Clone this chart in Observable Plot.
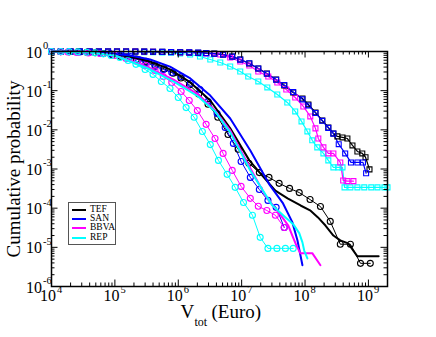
<!DOCTYPE html>
<html><head><meta charset="utf-8">
<script src="https://cdn.jsdelivr.net/npm/d3@7"></script>
<script src="https://cdn.jsdelivr.net/npm/@observablehq/plot@0.6"></script>
<style>
body{margin:0;background:#fff}
#chart{position:relative;width:436px;height:337px;font-family:'Liberation Serif','Times New Roman',serif}
#legend{position:absolute;left:68px;top:202px;width:48px;height:43px;border:1px solid #555;background:#fff;box-sizing:border-box}
.lrow{position:absolute;left:0;height:9px;font-size:9.5px;line-height:9px}
.lsw{position:absolute;left:3px;top:4px;width:14px;height:2px}
.ltx{position:absolute;left:21px;top:0}
</style>
</head><body><div id="chart"><div id="legend"></div></div>
<script>
const companies = ["TEF", "SAN", "BBVA", "REP"];
const colors = ["#000000", "#0000ff", "#ff00ff", "#00ffff"];

const xMajor = [1e4, 1e5, 1e6, 1e7, 1e8, 1e9];
const xExp = ["4", "5", "6", "7", "8", "9"];
const yMajor = [1, 1e-1, 1e-2, 1e-3, 1e-4, 1e-5, 1e-6];
const yExp = ["0", "-1", "-2", "-3", "-4", "-5", "-6"];
const minorMult = [2, 3, 4, 5, 6, 7, 8, 9];
const xLabelMain = "V", xLabelSub = "tot", xLabelUnit = "(Euro)";
const yLabel = "Cumulative probability";

// circle-marker series
const tefCircles = [[1e4,1],[1.4e4,0.995],[1.9e4,0.99],[2.6e4,0.98],[3.6e4,0.96],[4.9e4,0.93],[6.6e4,0.89],[9e4,0.83],[1.22e5,0.76],[1.6e5,0.70],[2.2e5,0.64],[3.1e5,0.56],[4.3e5,0.45],[6.0e5,0.36],[8.3e5,0.28],[1.1e6,0.21],[1.5e6,0.14],[2.1e6,0.082],[2.95e6,0.045],[4.2e6,0.021],[6.1e6,0.0076],[8.8e6,3.2e-3],[1.3e7,1.4e-3],[1.9e7,8.1e-4],[2.7e7,6.1e-4],[3.9e7,4.3e-4],[5.7e7,3.2e-4],[8.1e7,2.5e-4],[1.2e8,1.66e-4],[1.75e8,1.1e-4],[2.5e8,4.6e-5],[3.6e8,1.2e-5],[5.2e8,1.2e-5],[7.5e8,3.9e-6],[1.07e9,3.9e-6]];
const sanCircles = [[1e4,1],[1.4e4,0.995],[1.9e4,0.99],[2.8e4,0.97],[4e4,0.95],[5.8e4,0.92],[8.4e4,0.89],[1.2e5,0.82],[1.74e5,0.745],[2.36e5,0.625],[3.1e5,0.52],[4.3e5,0.415],[5.8e5,0.347],[7.9e5,0.29],[1.11e6,0.23],[1.55e6,0.153],[2.2e6,0.107],[2.97e6,0.053],[4.1e6,0.026],[5.5e6,0.0115],[7.4e6,0.0045],[9.8e6,1.56e-3],[1.37e7,6.1e-4],[1.9e7,3.0e-4],[2.6e7,1.58e-4],[3.5e7,1.05e-4],[4.7e7,3.2e-5]];
const bbvaCircles = [[1e4,1],[1.4e4,0.99],[1.8e4,0.97],[2.5e4,0.94],[3.8e4,0.92],[5.8e4,0.89],[1.0e5,0.79],[1.5e5,0.66],[2.25e5,0.556],[3.1e5,0.44],[4.3e5,0.327],[5.8e5,0.23],[7.9e5,0.162],[1.11e6,0.095],[1.49e6,0.056],[2.0e6,0.031],[2.75e6,0.0138],[3.8e6,6.0e-3],[5.1e6,2.5e-3],[7.1e6,9.2e-4],[9.8e6,3.6e-4],[1.37e7,1.78e-4],[1.83e7,1.12e-4],[2.5e7,8.7e-5],[3.4e7,6.6e-5],[4.7e7,3.2e-5]];
const repCircles = [[1e4,1],[1.4e4,1],[1.9e4,0.99],[2.6e4,0.98],[3.6e4,0.96],[4.9e4,0.93],[6.6e4,0.87],[8.7e4,0.79],[1.2e5,0.70],[1.62e5,0.59],[2.15e5,0.47],[3.0e5,0.347],[4.0e5,0.26],[5.4e5,0.172],[7.4e5,0.114],[1.0e6,0.067],[1.33e6,0.037],[1.78e6,0.021],[2.4e6,9.1e-3],[3.2e6,4.2e-3],[4.3e6,1.66e-3],[5.9e6,7.3e-4],[7.9e6,3.4e-4],[1.07e7,1.4e-4],[1.48e7,6.6e-5],[1.96e7,1.8e-5],[2.6e7,9.4e-6],[3.6e7,9.4e-6],[4.9e7,9.4e-6],[6.5e7,9.4e-6]];

// thick plain-line series
const tefLine = [[1e4,1],[3e4,0.98],[5.9e4,0.92],[1.74e5,0.745],[3.6e5,0.556],[7.4e5,0.35],[1.55e6,0.162],[3.2e6,0.056],[6.6e6,0.011],[1.32e7,1.66e-3],[2.1e7,6.9e-4],[3.4e7,2.8e-4],[5.3e7,1.78e-4],[8.5e7,1.17e-4],[1.2e8,8.8e-5],[1.6e8,5.8e-5],[2.1e8,3.6e-5],[2.8e8,2.0e-5],[3.6e8,1.5e-5],[4.8e8,1.26e-5],[6.7e8,5.9e-6],[1.45e9,5.9e-6]];
const sanLine = [[1e4,1],[5.8e4,0.94],[1.74e5,0.79],[3.6e5,0.625],[7.4e5,0.41],[1.55e6,0.205],[3.2e6,0.075],[6.6e6,0.0195],[1.37e7,2.97e-3],[2.8e7,3.8e-4],[4.5e7,1.32e-4],[6.3e7,4.4e-5],[7.6e7,1.5e-5],[9.1e7,3.5e-6]];
const bbvaLine = [[1e4,1],[4.05e4,0.943],[1.0e5,0.79],[3.34e5,0.39],[8.9e5,0.182],[2.06e6,0.08],[3.8e6,0.031],[6.6e6,9.7e-3],[1.22e7,1.47e-3],[2.36e7,2.1e-4],[3.4e7,9.9e-5],[4.5e7,5.5e-5],[5.45e7,3.6e-5],[6.3e7,2.0e-5],[7.3e7,1.12e-5],[8.4e7,7.1e-6],[1.3e8,7.1e-6],[1.75e8,3.5e-6]];
const repLine = [[1e4,1],[4.05e4,0.943],[1.0e5,0.79],[3.34e5,0.368],[8.9e5,0.162],[2.06e6,0.071],[3.8e6,0.0295],[6.6e6,8.6e-3],[1.37e7,9.2e-4],[3.04e7,1.18e-4],[4.5e7,6.6e-5],[6.5e7,3.9e-5],[8.1e7,2.3e-5],[9.1e7,1.34e-5],[9.7e7,8.3e-6],[1.09e8,5.2e-6]];

// square-marker series
const tefSquares = [[1e4,1],[1.4e4,1],[2e4,1],[2.8e4,1],[4e4,1],[5.6e4,1],[7.8e4,1],[1.08e5,1],[1.5e5,1],[2.1e5,1],[2.9e5,0.995],[4.0e5,0.99],[5.6e5,0.98],[7.7e5,0.97],[1.07e6,0.96],[1.49e6,0.943],[2.06e6,0.93],[2.76e6,0.916],[3.7e6,0.889],[5.1e6,0.838],[7.1e6,0.745],[9.5e6,0.625],[1.32e7,0.494],[1.83e7,0.368],[2.5e7,0.275],[3.5e7,0.193],[4.7e7,0.136],[6.5e7,0.09],[9.1e7,0.063],[1.13e8,0.0445],[1.46e8,0.0278],[1.87e8,0.0174],[2.33e8,0.0115],[2.8e8,8.1e-3],[3.24e8,6.8e-3],[3.9e8,6.4e-3],[4.66e8,6.0e-3],[5.6e8,4.0e-3],[6.7e8,2.8e-3],[8.0e8,2.5e-3],[9.0e8,2.0e-3],[1.04e9,9.8e-4]];
const sanSquares = [[1e4,1],[1.4e4,1],[2e4,1],[2.8e4,1],[4e4,1],[5.6e4,1],[7.8e4,1],[1.08e5,1],[1.5e5,1],[2.1e5,1],[2.9e5,0.995],[4.0e5,0.99],[5.6e5,0.98],[7.7e5,0.97],[1.07e6,0.96],[1.49e6,0.95],[2.06e6,0.935],[2.76e6,0.91],[3.7e6,0.88],[5.1e6,0.83],[7.1e6,0.74],[9.5e6,0.62],[1.32e7,0.5],[1.83e7,0.37],[2.5e7,0.27],[3.5e7,0.19],[4.7e7,0.14],[6.5e7,0.092],[9.1e7,0.06],[1.13e8,0.042],[1.46e8,0.027],[1.87e8,0.017],[2.33e8,0.0112],[2.8e8,8.0e-3],[3.4e8,4.3e-3],[4.3e8,2.5e-3],[5.3e8,1.47e-3],[6.7e8,1.47e-3],[8.2e8,1.47e-3],[9.2e8,7.8e-4]];
const bbvaSquares = [[1e4,1],[1.4e4,1],[2e4,1],[2.8e4,1],[4e4,1],[5.6e4,1],[7.8e4,1],[1.08e5,1],[1.5e5,1],[2.1e5,0.995],[2.9e5,0.99],[4.0e5,0.985],[5.6e5,0.975],[7.7e5,0.965],[1.07e6,0.95],[1.49e6,0.935],[2.06e6,0.915],[2.76e6,0.89],[3.7e6,0.86],[4.6e6,0.838],[6.6e6,0.70],[9.5e6,0.556],[1.32e7,0.44],[1.83e7,0.309],[2.63e7,0.23],[3.65e7,0.162],[5.06e7,0.107],[7.0e7,0.067],[9.4e7,0.0395],[1.21e8,0.022],[1.46e8,0.0109],[1.62e8,6.0e-3],[1.95e8,3.56e-3],[2.33e8,2.5e-3],[2.8e8,2.5e-3],[3.6e8,1.47e-3],[4.0e8,5.1e-4],[4.66e8,4.9e-4],[5.8e8,4.9e-4]];
const repSquares = [[1e4,1],[1.4e4,1],[2e4,1],[2.8e4,1],[4e4,1],[5.6e4,1],[7.8e4,0.995],[1.08e5,0.99],[1.5e5,0.985],[2.1e5,0.975],[2.9e5,0.965],[4.0e5,0.955],[5.6e5,0.943],[7.7e5,0.916],[1.07e6,0.889],[1.54e6,0.838],[2.2e6,0.745],[3.2e6,0.625],[4.6e6,0.524],[6.6e6,0.414],[9.5e6,0.309],[1.27e7,0.23],[1.83e7,0.172],[2.54e7,0.121],[3.65e7,0.08],[5.25e7,0.05],[7.0e7,0.0295],[8.8e7,0.0164],[1.09e8,9.1e-3],[1.3e8,5.4e-3],[1.56e8,3.56e-3],[1.95e8,2.5e-3],[2.33e8,1.66e-3],[2.8e8,1.1e-3],[3.36e8,1.1e-3],[3.9e8,1.1e-3],[4.2e8,3.4e-4],[5.2e8,3.4e-4],[6.7e8,3.4e-4],[8.6e8,3.4e-4],[1.11e9,3.4e-4],[1.39e9,3.4e-4],[1.79e9,3.4e-4],[2e9,3.4e-4]];

const toRows = (company, pts) => pts.map(([x, y]) => ({company, x, y}));
const circleRows = [
  ...toRows("TEF", tefCircles), ...toRows("SAN", sanCircles),
  ...toRows("BBVA", bbvaCircles), ...toRows("REP", repCircles)];
const lineRows = [
  ...toRows("TEF", tefLine), ...toRows("SAN", sanLine),
  ...toRows("BBVA", bbvaLine), ...toRows("REP", repLine)];
const squareRows = [
  ...toRows("REP", repSquares), ...toRows("BBVA", bbvaSquares),
  ...toRows("TEF", tefSquares), ...toRows("SAN", sanSquares)];

const W = 436, H = 337, mT = 51, mR = 49, mB = 51, mL = 51;
const fw = W - mL - mR, fh = H - mT - mB;
const majorLen = 6.5, minorLen = 3.5;

const xMinor = xMajor.flatMap(v => minorMult.map(m => v * m)).filter(v => v <= 2e9);
const yMinor = yMajor.flatMap(v => minorMult.map(m => v * m)).filter(v => v < 1);
const xTicks = xMajor.map((v, i) => ({v, e: xExp[i]}));
const yTicks = yMajor.map((v, i) => ({v, e: yExp[i]}));

const tickStyle = {stroke: "#000", strokeWidth: 1};
const chart = Plot.plot({
  width: W, height: H,
  marginTop: mT, marginRight: mR, marginBottom: mB, marginLeft: mL,
  x: {type: "log", domain: [1e4, 2e9], axis: null},
  y: {type: "log", domain: [1e-6, 1], axis: null},
  color: {domain: companies, range: colors},
  style: {fontFamily: "'Liberation Serif','Times New Roman',serif", background: "#fff", color: "#000", overflow: "visible"},
  marks: [
    Plot.line(squareRows, {x: "x", y: "y", z: "company", stroke: "company", strokeWidth: 1.2}),
    Plot.dot(squareRows, {x: "x", y: "y", stroke: "company", symbol: "square", r: 2.8, strokeWidth: 1.1, fill: "none"}),
    Plot.line(circleRows, {x: "x", y: "y", z: "company", stroke: "company", strokeWidth: 1}),
    Plot.dot(circleRows, {x: "x", y: "y", stroke: "company", symbol: "circle", r: 3, strokeWidth: 1.1, fill: "none"}),
    Plot.line(lineRows, {x: "x", y: "y", z: "company", stroke: "company", strokeWidth: 2}),
    Plot.tickX(xMajor, {x: d => d, insetTop: fh - majorLen, ...tickStyle}),
    Plot.tickX(xMinor, {x: d => d, insetTop: fh - minorLen, ...tickStyle}),
    Plot.tickX(xMajor, {x: d => d, insetBottom: fh - majorLen, ...tickStyle}),
    Plot.tickX(xMinor, {x: d => d, insetBottom: fh - minorLen, ...tickStyle}),
    Plot.tickY(yMajor, {y: d => d, insetRight: fw - majorLen, ...tickStyle}),
    Plot.tickY(yMinor, {y: d => d, insetRight: fw - minorLen, ...tickStyle}),
    Plot.tickY(yMajor, {y: d => d, insetLeft: fw - majorLen, ...tickStyle}),
    Plot.tickY(yMinor, {y: d => d, insetLeft: fw - minorLen, ...tickStyle}),
    Plot.frame({stroke: "#000", strokeWidth: 1.5}),
    Plot.text(xTicks, {x: "v", frameAnchor: "bottom", text: () => "10", textAnchor: "end", dx: 4.5, dy: 14, fontSize: 16}),
    Plot.text(xTicks, {x: "v", frameAnchor: "bottom", text: "e", textAnchor: "start", dx: 5.5, dy: 6.5, fontSize: 10.5}),
    Plot.text(yTicks, {y: "v", frameAnchor: "left", text: () => "10", textAnchor: "end", dx: -9.5, dy: 1, fontSize: 16}),
    Plot.text(yTicks, {y: "v", frameAnchor: "left", text: "e", textAnchor: "start", dx: -8.5, dy: -6, fontSize: 10.5}),
    Plot.text([yLabel], {frameAnchor: "left", textAnchor: "middle", dx: -38, rotate: -90, fontSize: 19}),
    Plot.text([xLabelMain], {frameAnchor: "bottom", textAnchor: "start", dx: -39, dy: 31, fontSize: 19}),
    Plot.text([xLabelSub], {frameAnchor: "bottom", textAnchor: "start", dx: -25, dy: 39.5, fontSize: 12}),
    Plot.text([xLabelUnit], {frameAnchor: "bottom", textAnchor: "start", dx: -8, dy: 31, fontSize: 19})
  ]
});
const host = document.getElementById("chart");
host.insertBefore(chart, host.firstChild);

const legend = d3.select("#legend");
companies.forEach((c, i) => {
  const row = legend.append("div").attr("class", "lrow").style("top", (2 + i * 9.2) + "px").style("width", "100%");
  row.append("div").attr("class", "lsw").style("background", colors[i]);
  row.append("div").attr("class", "ltx").text(c);
});
</script>
</body></html>
